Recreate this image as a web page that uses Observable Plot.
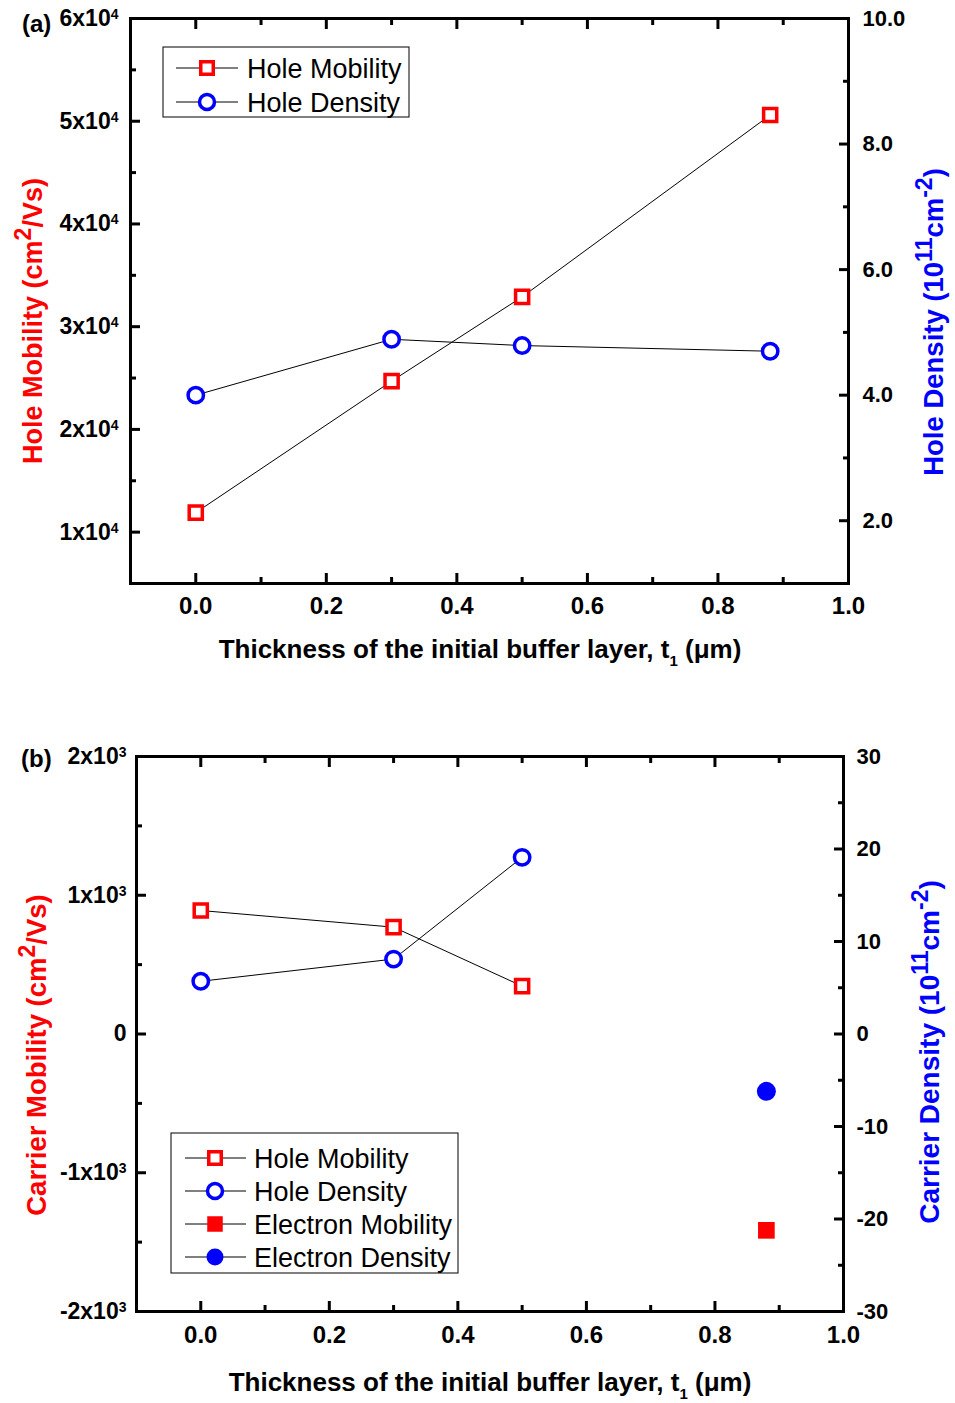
<!DOCTYPE html>
<html>
<head>
<meta charset="utf-8">
<script src="https://cdn.jsdelivr.net/npm/d3@7"></script>
<script src="https://cdn.jsdelivr.net/npm/@observablehq/plot@0.6"></script>
<style>
  html, body { margin: 0; padding: 0; background: #fff; }
  #chart { width: 955px; height: 1403px; position: relative; background: #fff; }
  #chart svg { display: block; }
</style>
</head>
<body>
<div id="chart"></div>
<script>
// ---------------- data ----------------
// Panel (a)
const thicknessA = [0.0, 0.3, 0.5, 0.88];
const holeMobilityA = [11900, 24700, 32900, 50600];   // cm^2/Vs
const holeDensityA = [4.00, 4.89, 4.79, 4.70];        // 1e11 cm^-2

// Panel (b)
const thicknessB = [0.0, 0.3, 0.5];
const holeMobilityB = [890, 770, 345];
const holeDensityB = [5.7, 8.1, 19.1];
const electronThicknessB = [0.88];
const electronMobilityB = [-1415];
const electronDensityB = [-6.2];

// ticks & labels
const xMajorTicks = [0.0, 0.2, 0.4, 0.6, 0.8, 1.0];
const xMinorTicks = [-0.1, 0.1, 0.3, 0.5, 0.7, 0.9];
const xTickLabels = ["0.0", "0.2", "0.4", "0.6", "0.8", "1.0"];

const leftTicksA = [10000, 20000, 30000, 40000, 50000, 60000];
const leftMinorA = [15000, 25000, 35000, 45000, 55000];
const leftLabelsA = ["1x10\u2074", "2x10\u2074", "3x10\u2074", "4x10\u2074", "5x10\u2074", "6x10\u2074"];
const rightTicksA = [2, 4, 6, 8, 10];
const rightMinorA = [3, 5, 7, 9];
const rightLabelsA = ["2.0", "4.0", "6.0", "8.0", "10.0"];

const leftTicksB = [-2000, -1000, 0, 1000, 2000];
const leftMinorB = [-1500, -500, 500, 1500];
const leftLabelsB = ["-2x10\u00b3", "-1x10\u00b3", "0", "1x10\u00b3", "2x10\u00b3"];
const rightTicksB = [-30, -20, -10, 0, 10, 20, 30];
const rightMinorB = [-25, -15, -5, 5, 15, 25];
const rightLabelsB = ["-30", "-20", "-10", "0", "10", "20", "30"];

const xDomain = [-0.1, 1.0];
const leftDomainA = [5000, 60000];
const rightDomainA = [1, 10];
const leftDomainB = [-2000, 2000];
const rightDomainB = [-30, 30];

const legendA = [
  {label: "Hole Mobility", symbol: "square", filled: false, color: "#ff0000"},
  {label: "Hole Density", symbol: "circle", filled: false, color: "#0000ff"}
];
const legendB = [
  {label: "Hole Mobility", symbol: "square", filled: false, color: "#ff0000"},
  {label: "Hole Density", symbol: "circle", filled: false, color: "#0000ff"},
  {label: "Electron Mobility", symbol: "square", filled: true, color: "#ff0000"},
  {label: "Electron Density", symbol: "circle", filled: true, color: "#0000ff"}
];

// ---------------- helpers ----------------
const RED = "#ff0000", BLUE = "#0000ff";
const FONT = "'Liberation Sans', Arial, Helvetica, sans-serif";
const SUP = {"\u2074": "4", "\u00b3": "3"};

function axisMarks(cfg) {
  const toLeft = d3.scaleLinear(cfg.rightDomain, cfg.leftDomain);
  const xLab = new Map(xMajorTicks.map((v, i) => [v, xTickLabels[i]]));
  const leftLab = new Map(cfg.leftTicks.map((v, i) => [v, cfg.leftLabels[i]]));
  const rightPos = cfg.rightTicks.map(toLeft);
  const rightLab = new Map(rightPos.map((v, i) => [v, cfg.rightLabels[i]]));
  const sw = 3;
  return [
    Plot.axisX(xMajorTicks, {anchor: "bottom", tickSize: -10, tickPadding: cfg.xPad, strokeWidth: sw,
      tickFormat: d => xLab.get(d), fontSize: 24, fontWeight: "bold", label: null}),
    Plot.axisX(xMinorTicks, {anchor: "bottom", tickSize: -6, strokeWidth: sw, fill: "none", label: null}),
    Plot.axisX(xMajorTicks, {anchor: "top", tickSize: -10, strokeWidth: sw, fill: "none", label: null}),
    Plot.axisX(xMinorTicks, {anchor: "top", tickSize: -6, strokeWidth: sw, fill: "none", label: null}),
    Plot.axisY(cfg.leftTicks, {anchor: "left", tickSize: -10, tickPadding: cfg.leftPad, strokeWidth: sw,
      tickFormat: d => leftLab.get(d), fontSize: 23, fontWeight: "bold", label: null}),
    Plot.axisY(cfg.leftMinor, {anchor: "left", tickSize: -6, strokeWidth: sw, fill: "none", label: null}),
    Plot.axisY(rightPos, {anchor: "right", tickSize: -10, tickPadding: cfg.rightPad, strokeWidth: sw,
      tickFormat: d => rightLab.get(d), fontSize: 22, fontWeight: "bold", label: null}),
    Plot.axisY(cfg.rightMinor.map(toLeft), {anchor: "right", tickSize: -6, strokeWidth: sw, fill: "none", label: null}),
    Plot.frame({stroke: "black", strokeWidth: 3})
  ];
}

// turn the unicode superscript at the end of tick labels into a raised tspan
function raiseSuperscripts(svg) {
  d3.select(svg).selectAll("text").each(function () {
    const txt = this.textContent;
    const last = txt.slice(-1);
    if (this.childElementCount === 0 && SUP[last] && txt.length > 1) {
      const t = d3.select(this);
      t.text(null);
      t.append("tspan").text(txt.slice(0, -1));
      t.append("tspan").attr("font-size", 14).attr("dy", "-0.5em").text(SUP[last]);
    }
  });
}

function richText(parent, {x, y, rotate = 0, anchor = "middle", size, weight = "bold", fill = "black", parts}) {
  const t = parent.append("text")
    .attr("transform", `translate(${x},${y})` + (rotate ? ` rotate(${rotate})` : ""))
    .attr("text-anchor", anchor)
    .attr("font-family", FONT)
    .attr("font-size", size)
    .attr("font-weight", weight)
    .attr("fill", fill);
  let shift = 0;
  for (const p of parts) {
    const s = typeof p === "string" ? {text: p, dy: 0} : p;
    const sp = t.append("tspan").text(s.text).attr("dy", (s.dy || 0) - shift);
    if (s.size) sp.attr("font-size", s.size);
    shift = s.dy || 0;
  }
  return t;
}

function drawLegend(svg, {x, y, w, h, rows, rowY, lineX1, lineX2, markX, textX}) {
  const g = d3.select(svg).append("g").attr("text-anchor", "start");
  g.append("rect").attr("x", x).attr("y", y).attr("width", w).attr("height", h)
    .attr("fill", "white").attr("stroke", "black").attr("stroke-width", 1);
  rows.forEach((r, i) => {
    const cy = rowY[i];
    g.append("line").attr("x1", lineX1).attr("x2", lineX2).attr("y1", cy).attr("y2", cy)
      .attr("stroke", "black").attr("stroke-width", 1);
    if (r.symbol === "square") {
      const s = r.filled ? 15.5 : 12.5;
      g.append("rect").attr("x", markX - s / 2).attr("y", cy - s / 2).attr("width", s).attr("height", s)
        .attr("fill", r.filled ? r.color : "white").attr("stroke", r.filled ? "none" : r.color)
        .attr("stroke-width", 3.5);
    } else {
      g.append("circle").attr("cx", markX).attr("cy", cy).attr("r", r.filled ? 8.5 : 7.5)
        .attr("fill", r.filled ? r.color : "white").attr("stroke", r.filled ? "none" : r.color)
        .attr("stroke-width", 3.5);
    }
    g.append("text").attr("x", textX).attr("y", cy).attr("dy", "0.36em").attr("text-anchor", "start")
      .attr("font-family", FONT).attr("font-size", 27).attr("font-weight", "normal")
      .attr("fill", "black").text(r.label);
  });
}

const chart = document.getElementById("chart");

// ---------------- panel (a) ----------------
{
  const toLeft = d3.scaleLinear(rightDomainA, leftDomainA);
  const rows = thicknessA.map((t, i) => ({t, mob: holeMobilityA[i], den: holeDensityA[i]}));
  const svg = Plot.plot({
    width: 955, height: 700,
    marginTop: 18, marginBottom: 117, marginLeft: 130, marginRight: 107,
    x: {domain: xDomain, label: null},
    y: {domain: leftDomainA, label: null},
    style: {fontFamily: FONT, background: "white", color: "black", overflow: "visible"},
    marks: [
      Plot.line(rows, {x: "t", y: "mob", stroke: "black", strokeWidth: 1}),
      Plot.line(rows, {x: "t", y: d => toLeft(d.den), stroke: "black", strokeWidth: 1}),
      Plot.dot(rows, {x: "t", y: "mob", symbol: "square", r: 7.4, stroke: RED, strokeWidth: 3.5, fill: "white"}),
      Plot.dot(rows, {x: "t", y: d => toLeft(d.den), symbol: "circle", r: 7.7, stroke: BLUE, strokeWidth: 3.5, fill: "white"}),
      ...axisMarks({leftDomain: leftDomainA, rightDomain: rightDomainA,
        leftTicks: leftTicksA, leftMinor: leftMinorA, leftLabels: leftLabelsA,
        rightTicks: rightTicksA, rightMinor: rightMinorA, rightLabels: rightLabelsA,
        xPad: 23, leftPad: 22, rightPad: 24})
    ]
  });
  chart.appendChild(svg);
  raiseSuperscripts(svg);
  const s = d3.select(svg);
  richText(s, {x: 22, y: 32, anchor: "start", size: 24, parts: ["(a)"]});
  richText(s, {x: 480, y: 658, size: 26, parts: ["Thickness of the initial buffer layer, t", {text: "1", size: 15, dy: 8}, " (\u03bcm)"]});
  richText(s, {x: 42, y: 321, rotate: -90, size: 27, fill: RED,
    parts: ["Hole Mobility (cm", {text: "2", size: 23, dy: -11}, "/Vs)"]});
  richText(s, {x: 943, y: 322, rotate: -90, size: 27.5, fill: BLUE,
    parts: ["Hole Density (10", {text: "11", size: 23, dy: -11}, "cm", {text: "-2", size: 23, dy: -11}, ")"]});
  drawLegend(svg, {x: 163, y: 47, w: 246, h: 70, rows: legendA, rowY: [68, 102],
    lineX1: 176, lineX2: 238, markX: 207, textX: 247});
}

// ---------------- panel (b) ----------------
{
  const toLeft = d3.scaleLinear(rightDomainB, leftDomainB);
  const rows = thicknessB.map((t, i) => ({t, mob: holeMobilityB[i], den: holeDensityB[i]}));
  const eRows = electronThicknessB.map((t, i) => ({t, mob: electronMobilityB[i], den: electronDensityB[i]}));
  const svg = Plot.plot({
    width: 955, height: 703,
    marginTop: 56, marginBottom: 92, marginLeft: 136, marginRight: 112,
    x: {domain: xDomain, label: null},
    y: {domain: leftDomainB, label: null},
    style: {fontFamily: FONT, background: "white", color: "black", overflow: "visible"},
    marks: [
      Plot.line(rows, {x: "t", y: "mob", stroke: "black", strokeWidth: 1}),
      Plot.line(rows, {x: "t", y: d => toLeft(d.den), stroke: "black", strokeWidth: 1}),
      Plot.dot(rows, {x: "t", y: "mob", symbol: "square", r: 7.4, stroke: RED, strokeWidth: 3.5, fill: "white"}),
      Plot.dot(rows, {x: "t", y: d => toLeft(d.den), symbol: "circle", r: 7.7, stroke: BLUE, strokeWidth: 3.5, fill: "white"}),
      Plot.dot(eRows, {x: "t", y: "mob", symbol: "square", r: 9.4, fill: RED, stroke: "none"}),
      Plot.dot(eRows, {x: "t", y: d => toLeft(d.den), symbol: "circle", r: 9.5, fill: BLUE, stroke: "none"}),
      ...axisMarks({leftDomain: leftDomainB, rightDomain: rightDomainB,
        leftTicks: leftTicksB, leftMinor: leftMinorB, leftLabels: leftLabelsB,
        rightTicks: rightTicksB, rightMinor: rightMinorB, rightLabels: rightLabelsB,
        xPad: 24, leftPad: 20, rightPad: 23})
    ]
  });
  chart.appendChild(svg);
  raiseSuperscripts(svg);
  const s = d3.select(svg);
  richText(s, {x: 21, y: 67, anchor: "start", size: 24, parts: ["(b)"]});
  richText(s, {x: 490, y: 691, size: 26, parts: ["Thickness of the initial buffer layer, t", {text: "1", size: 15, dy: 8}, " (\u03bcm)"]});
  richText(s, {x: 46, y: 355, rotate: -90, size: 27.5, fill: RED,
    parts: ["Carrier Mobility (cm", {text: "2", size: 23, dy: -11}, "/Vs)"]});
  richText(s, {x: 939, y: 352, rotate: -90, size: 28, fill: BLUE,
    parts: ["Carrier Density (10", {text: "11", size: 23, dy: -11}, "cm", {text: "-2", size: 23, dy: -11}, ")"]});
  drawLegend(svg, {x: 171, y: 433, w: 287, h: 140, rows: legendB, rowY: [458, 491, 524, 557],
    lineX1: 185, lineX2: 246, markX: 215, textX: 254});
}
</script>
</body>
</html>
